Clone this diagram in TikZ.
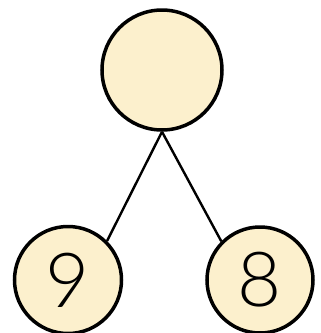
\documentclass[tikz,border=0pt]{standalone}
\usepackage{fontspec}
\setsansfont{Lato Light}
\begin{document}
\begin{tikzpicture}[x=1pt,y=-1pt,
  bubble/.style={circle,draw=black,line width=3.5pt,fill=fillc,inner sep=0pt,
    font=\fontsize{76}{76}\selectfont\sffamily},
  link/.style={line width=2.4pt,draw=black}]
\definecolor{fillc}{HTML}{FCF0CD}
\useasboundingbox (0,0) rectangle (321,333);
\node[bubble,minimum size=120pt] (top) at (162,70) {};
\node[bubble,minimum size=107pt] (left) at (68,280) {9};
\node[bubble,minimum size=106pt] (right) at (260,280) {8};
\draw[link] (top.south) -- (left.45);
\draw[link] (top.south) -- (right.135);
\end{tikzpicture}
\end{document}
